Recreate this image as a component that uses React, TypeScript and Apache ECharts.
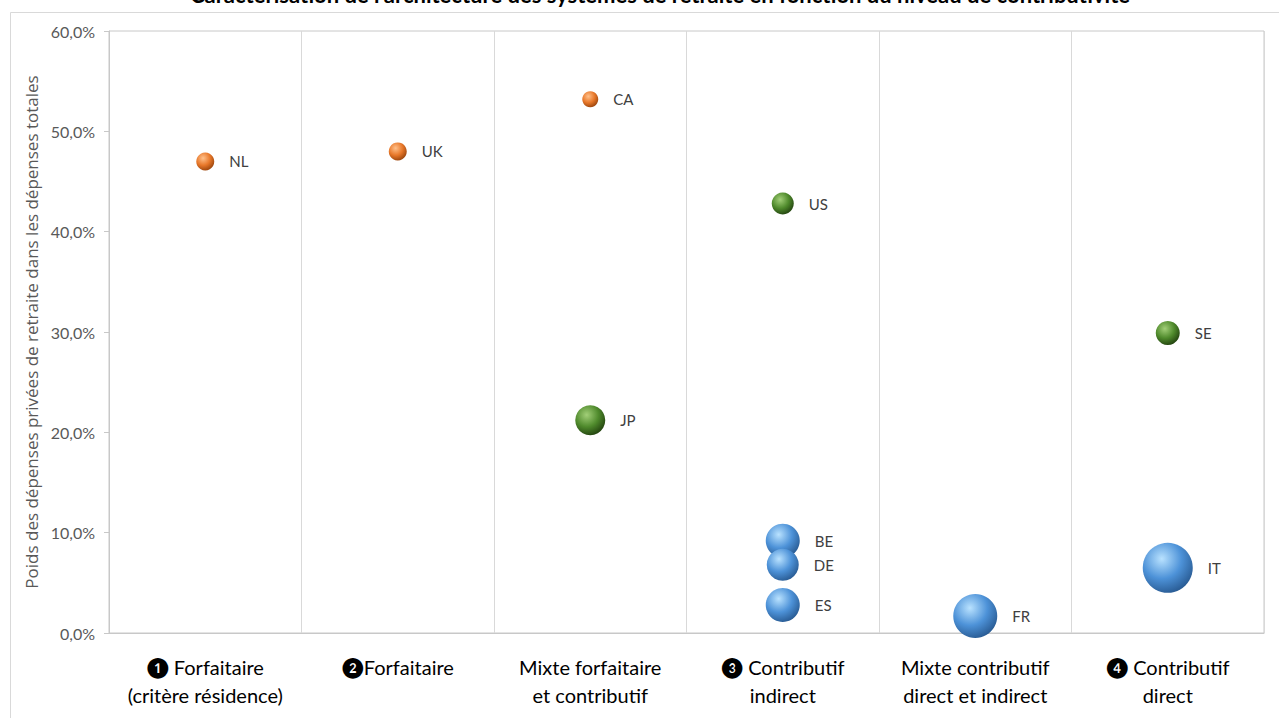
import React, { useEffect, useRef } from "react";
import * as echarts from "echarts";

const title =
  "Caractérisation de l'architecture des systèmes de retraite en fonction du niveau de contributivité";
const categories = [
  "❶ Forfaitaire\n(critère résidence)",
  "❷Forfaitaire",
  "Mixte forfaitaire\net contributif",
  "❸ Contributif\nindirect",
  "Mixte contributif\ndirect et indirect",
  "❹ Contributif\ndirect",
];
const yTicks = [0, 10, 20, 30, 40, 50, 60];
const countries = ["NL", "UK", "CA", "JP", "US", "BE", "DE", "ES", "FR", "SE", "IT"];
const countryCategory = [0, 1, 2, 2, 3, 3, 3, 3, 4, 5, 5];
const privateShare = [47.0, 48.0, 53.2, 21.2, 42.8, 9.2, 6.8, 2.8, 1.7, 29.9, 6.5];
const bubbleSize = [18, 18, 16, 30, 22, 34, 32, 34, 44, 24, 50];
const colorGroup = ["orange", "orange", "orange", "green", "green", "blue", "blue", "blue", "blue", "green", "blue"];

const palettes: Record<string, string[]> = {
  orange: ["#ffc08a", "#e8782a", "#9a440c"],
  green: ["#a2cf78", "#4f8a2c", "#22420f"],
  blue: ["#b9e2ff", "#4d92d8", "#285a92"],
};

function sphere(group: string) {
  const p = palettes[group];
  return new echarts.graphic.RadialGradient(0.38, 0.32, 0.72, [
    { offset: 0, color: p[0] },
    { offset: 0.55, color: p[1] },
    { offset: 1, color: p[2] },
  ]);
}

export default function App() {
  const ref = useRef<HTMLDivElement>(null);
  useEffect(() => {
    if (!ref.current) return;
    const chart = echarts.init(ref.current, undefined, { renderer: "svg" });
    const data = countries.map((c, i) => ({
      name: c,
      value: [countryCategory[i], privateShare[i], bubbleSize[i]],
      itemStyle: { color: sphere(colorGroup[i]) },
    }));
    chart.setOption({
      animation: false,
      backgroundColor: "#ffffff",
      graphic: [
        {
          type: "rect",
          shape: { x: 10.5, y: 12.5, width: 1300, height: 800 },
          style: { fill: "none", stroke: "#d9d9d9", lineWidth: 1 },
          silent: true,
        },
        {
          type: "text",
          x: 660,
          y: 5,
          style: {
            text: title,
            font: "bold 22px Lato, 'Open Sans', sans-serif",
            fill: "#000000",
            align: "center",
            verticalAlign: "bottom",
          },
        },
      ],
      grid: {
        left: 109,
        right: 15,
        top: 31,
        bottom: 85,
        show: true,
        borderColor: "#c8c8c8",
        borderWidth: 1,
        backgroundColor: "transparent",
      },
      xAxis: {
        type: "category",
        data: categories,
        boundaryGap: true,
        axisLine: { show: true, lineStyle: { color: "#c8c8c8" } },
        axisTick: { show: false },
        splitLine: { show: true, lineStyle: { color: "#d9d9d9", width: 1 } },
        axisLabel: {
          interval: 0,
          color: "#000000",
          fontFamily: "Lato, 'DejaVu Sans', sans-serif",
          fontSize: 20,
          lineHeight: 28,
          margin: 20,
        },
      },
      yAxis: {
        type: "value",
        min: yTicks[0],
        max: yTicks[yTicks.length - 1],
        interval: 10,
        name: "Poids des dépenses privées de retraite dans les dépenses totales",
        nameLocation: "middle",
        nameGap: 66,
        nameTextStyle: {
          color: "#595959",
          fontFamily: "'Open Sans', sans-serif",
          fontSize: 17,
        },
        axisLine: { show: true, lineStyle: { color: "#c8c8c8" } },
        axisTick: { show: true, length: 5, lineStyle: { color: "#c8c8c8" } },
        splitLine: { show: false },
        axisLabel: {
          color: "#595959",
          fontFamily: "Lato, sans-serif",
          fontSize: 16,
          margin: 14,
          formatter: (v: number) => v.toFixed(1).replace(".", ",") + "%",
        },
      },
      series: [
        {
          type: "scatter",
          data,
          symbolSize: (val: number[]) => val[2],
          itemStyle: { opacity: 1 },
          label: {
            show: true,
            position: "right",
            distance: 15,
            formatter: (p: any) => p.name,
            color: "#404040",
            fontFamily: "Lato, sans-serif",
            fontSize: 15,
          },
        },
      ],
    });
    return () => chart.dispose();
  }, []);
  return (
    <div
      ref={ref}
      style={{ position: "fixed", left: 0, top: 0, width: 1279, height: 718, background: "#fff" }}
    />
  );
}
